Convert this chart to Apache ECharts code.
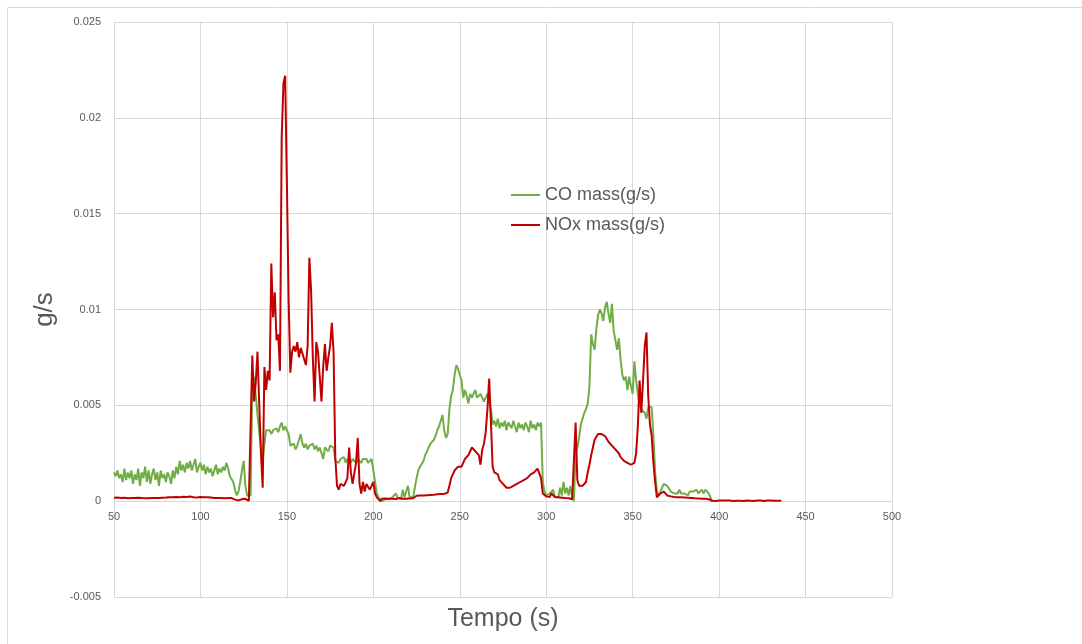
<!DOCTYPE html>
<html>
<head>
<meta charset="utf-8">
<script src="https://cdn.jsdelivr.net/npm/echarts@6/dist/echarts.min.js"></script>
<style>
  html, body { margin: 0; padding: 0; background: #ffffff; }
  #chart { width: 1082px; height: 644px; }
</style>
</head>
<body>
<div id="chart"></div>
<script>
// Sampling: one reading per second, starting at t = 50 s
const START_TIME = 50;
const STEP = 1;

const X_TICKS = [50, 100, 150, 200, 250, 300, 350, 400, 450, 500];
const Y_TICKS = [-0.005, 0, 0.005, 0.01, 0.015, 0.02, 0.025];

// CO mass flow (g/s), t = 50 .. 396 s
const coMass = [
  0.0015, 0.0013, 0.0016, 0.0012, 0.0014, 0.0010, 0.0017, 0.0011, 0.0015, 0.0012, // 50
  0.0016, 0.0009, 0.0014, 0.0011, 0.0017, 0.0008, 0.0015, 0.0012, 0.0018, 0.0010, // 60
  0.0016, 0.0009, 0.0014, 0.0017, 0.0011, 0.0015, 0.0008, 0.0016, 0.0012, 0.0014, // 70
  0.0010, 0.0015, 0.0013, 0.0009, 0.0016, 0.0012, 0.0018, 0.0014, 0.0021, 0.0016, // 80
  0.0019, 0.0015, 0.0020, 0.0017, 0.0021, 0.0016, 0.0019, 0.0022, 0.0015, 0.0018, // 90
  0.0020, 0.0016, 0.0019, 0.0014, 0.0018, 0.0015, 0.0017, 0.0013, 0.0016, 0.0019, // 100
  0.0014, 0.0017, 0.0015, 0.0018, 0.0016, 0.0020, 0.0017, 0.0013, 0.0012, 0.0010, // 110
  0.0006, 0.0003, 0.0005, 0.0010, 0.0016, 0.0021, 0.0008, 0.0003, 0.0002, 0.0003, // 120
  0.0060, 0.0065, 0.0055, 0.0045, 0.0036, 0.0028, 0.0021, 0.0030, 0.0037, 0.0036, // 130
  0.0037, 0.0035, 0.0037, 0.0036, 0.0038, 0.0036, 0.0039, 0.0041, 0.0037, 0.0039, // 140
  0.0038, 0.0035, 0.0029, 0.0028, 0.0030, 0.0027, 0.0029, 0.0028, 0.0035, 0.0030, // 150
  0.0028, 0.0030, 0.0027, 0.0029, 0.0028, 0.0030, 0.0027, 0.0029, 0.0026, 0.0028, // 160
  0.0025, 0.0022, 0.0028, 0.0029, 0.0026, 0.0029, 0.0030, 0.0028, 0.0021, 0.0022, // 170
  0.0020, 0.0022, 0.0021, 0.0023, 0.0020, 0.0022, 0.0021, 0.0020, 0.0022, 0.0021, // 180
  0.0020, 0.0022, 0.0021, 0.0020, 0.0022, 0.0021, 0.0022, 0.0020, 0.0021, 0.0022, // 190
  0.0021, 0.0010, 0.0004, 0.0002, 0.0001, 0.0000, 0.0000, 0.0001, 0.0000, 0.0001, // 200
  0.0001, 0.0002, 0.0001, 0.0004, 0.0002, 0.0003, 0.0001, 0.0006, 0.0002, 0.0003, // 210
  0.0008, 0.0002, 0.0001, 0.0002, 0.0003, 0.0012, 0.0016, 0.0018, 0.0019, 0.0021, // 220
  0.0024, 0.0026, 0.0028, 0.0030, 0.0031, 0.0032, 0.0034, 0.0037, 0.0039, 0.0042, // 230
  0.0045, 0.0037, 0.0033, 0.0035, 0.0048, 0.0055, 0.0058, 0.0066, 0.0071, 0.0069, // 240
  0.0068, 0.0063, 0.0054, 0.0058, 0.0055, 0.0051, 0.0056, 0.0054, 0.0053, 0.0058, // 250
  0.0054, 0.0053, 0.0056, 0.0055, 0.0052, 0.0054, 0.0056, 0.0052, 0.0048, 0.0040, // 260
  0.0042, 0.0039, 0.0043, 0.0038, 0.0041, 0.0039, 0.0042, 0.0037, 0.0041, 0.0040, // 270
  0.0038, 0.0042, 0.0039, 0.0036, 0.0041, 0.0038, 0.0040, 0.0037, 0.0041, 0.0039, // 280
  0.0036, 0.0042, 0.0038, 0.0040, 0.0037, 0.0041, 0.0039, 0.0041, 0.0010, 0.0005, // 290
  0.0003, 0.0002, 0.0004, 0.0003, 0.0006, 0.0002, 0.0003, 0.0002, 0.0007, 0.0003, // 300
  0.0010, 0.0004, 0.0007, 0.0003, 0.0008, 0.0002, 0.0000, 0.0025, 0.0028, 0.0033, // 310
  0.0040, 0.0043, 0.0046, 0.0048, 0.0051, 0.0060, 0.0087, 0.0082, 0.0079, 0.0090, // 320
  0.0097, 0.0100, 0.0098, 0.0094, 0.0101, 0.0104, 0.0098, 0.0093, 0.0103, 0.0089, // 330
  0.0084, 0.0079, 0.0085, 0.0074, 0.0066, 0.0063, 0.0065, 0.0058, 0.0065, 0.0060, // 340
  0.0056, 0.0073, 0.0063, 0.0056, 0.0050, 0.0048, 0.0047, 0.0046, 0.0043, 0.0049, // 350
  0.0048, 0.0049, 0.0034, 0.0015, 0.0005, 0.0003, 0.0005, 0.0007, 0.0009, 0.0010, // 360
  0.0008, 0.0007, 0.0005, 0.0006, 0.0004, 0.0005, 0.0004, 0.0006, 0.0004, 0.0005, // 370
  0.0004, 0.0005, 0.0003, 0.0005, 0.0004, 0.0005, 0.0004, 0.0006, 0.0004, 0.0005, // 380
  0.0006, 0.0004, 0.0006, 0.0005, 0.0004, 0.0002, 0.0000                          // 390
];

// NOx mass flow (g/s), t = 50 .. 436 s
const noxMass = [
  0.00018, 0.00016, 0.00019, 0.00015, 0.00017, 0.00014, 0.00018, 0.00016, 0.00015, 0.00019, // 50
  0.00016, 0.00013, 0.00017, 0.00015, 0.00018, 0.00014, 0.00016, 0.00019, 0.00015, 0.00017, // 60
  0.00015, 0.00018, 0.00016, 0.00014, 0.00017, 0.00020, 0.00016, 0.00015, 0.00018, 0.00017, // 70
  0.00019, 0.00016, 0.00021, 0.00018, 0.00020, 0.00017, 0.00022, 0.00019, 0.00021, 0.00018, // 80
  0.00023, 0.00020, 0.00022, 0.00019, 0.00024, 0.00021, 0.00020, 0.00023, 0.00019, 0.00021, // 90
  0.00022, 0.00019, 0.00021, 0.00018, 0.00020, 0.00017, 0.00019, 0.00018, 0.00016, 0.00019, // 100
  0.00017, 0.00018, 0.00016, 0.00017, 0.00015, 0.00017, 0.00016, 0.00015, 0.00016, 0.00014, // 110
  0.00008, 0.00005, 0.00004, 0.00006, 0.00010, 0.00018, 0.00012, 0.00004, 0.00002, 0.00003, // 120
  0.0076, 0.0052, 0.0062, 0.0078, 0.0051, 0.0025, 0.0007, 0.0070, 0.0058, 0.0068,           // 130
  0.0063, 0.0124, 0.0096, 0.0109, 0.0084, 0.0087, 0.0068, 0.0190, 0.0218, 0.0222,           // 140
  0.0166, 0.0105, 0.0067, 0.0078, 0.0081, 0.0078, 0.0083, 0.0075, 0.0080, 0.0077,           // 150
  0.0074, 0.0071, 0.0081, 0.0127, 0.0110, 0.0075, 0.0052, 0.0083, 0.0078, 0.0065,           // 160
  0.0052, 0.0070, 0.0082, 0.0068, 0.0075, 0.0081, 0.0093, 0.0078, 0.0023, 0.0008,           // 170
  0.0006, 0.0009, 0.0010, 0.0008, 0.0009, 0.0012, 0.0028, 0.0015, 0.0009, 0.0008,           // 180
  0.0020, 0.0033, 0.0009, 0.0004, 0.0010, 0.0005, 0.0009, 0.0010, 0.0006, 0.0008,           // 190
  0.0010, 0.0004, 0.0002, 0.0001, 0.0000, 0.00012, 0.00010, 0.00014, 0.00011, 0.00013,      // 200
  0.00015, 0.00012, 0.00014, 0.00011, 0.00013, 0.00016, 0.00014, 0.00012, 0.00015, 0.00013, // 210
  0.00016, 0.00014, 0.00017, 0.00015, 0.00018, 0.00028, 0.00030, 0.00029, 0.00031, 0.00030, // 220
  0.00032, 0.00031, 0.00033, 0.00032, 0.00034, 0.00033, 0.00035, 0.00036, 0.00034, 0.00037, // 230
  0.00036, 0.00038, 0.00040, 0.00045, 0.0008, 0.0012, 0.0014, 0.0016, 0.0017, 0.0018,       // 240
  0.0018, 0.0018, 0.0019, 0.0022, 0.0023, 0.0024, 0.0025, 0.0028, 0.0027, 0.0026,           // 250
  0.0027, 0.0024, 0.0019, 0.0027, 0.0030, 0.0036, 0.0048, 0.0064, 0.0042, 0.0018,           // 260
  0.0015, 0.0015, 0.0014, 0.0011, 0.0010, 0.0009, 0.0008, 0.0007, 0.0007, 0.0007,           // 270
  0.0007, 0.0008, 0.0008, 0.0009, 0.0009, 0.0010, 0.0010, 0.0011, 0.0012, 0.0012,           // 280
  0.0013, 0.0014, 0.0015, 0.0015, 0.0016, 0.0017, 0.0018, 0.0012, 0.0004, 0.0003,           // 290
  0.00025, 0.00018, 0.00022, 0.00040, 0.00030, 0.00022, 0.00018, 0.00020, 0.00015, 0.00018, // 300
  0.00014, 0.00016, 0.00013, 0.00015, 0.00012, 0.00010, 0.0000, 0.0041, 0.0011, 0.0008,     // 310
  0.0008, 0.0008, 0.0008, 0.0010, 0.0015, 0.0019, 0.0024, 0.0028, 0.0032, 0.0033,           // 320
  0.0035, 0.0035, 0.0035, 0.0035, 0.0034, 0.0033, 0.0031, 0.0030, 0.0029, 0.0028,           // 330
  0.0027, 0.0026, 0.0025, 0.0023, 0.0022, 0.0021, 0.0021, 0.0020, 0.0020, 0.0019,           // 340
  0.0019, 0.0020, 0.0025, 0.0039, 0.0063, 0.0046, 0.0063, 0.0081, 0.0088, 0.0055,           // 350
  0.0040, 0.0034, 0.0020, 0.0010, 0.0002, 0.0003, 0.0004, 0.0005, 0.0005, 0.0004,           // 360
  0.0003, 0.00028, 0.00025, 0.00023, 0.00022, 0.00020, 0.00021, 0.00019, 0.00020, 0.00018,  // 370
  0.00019, 0.00017, 0.00018, 0.00016, 0.00017, 0.00016, 0.00015, 0.00016, 0.00014, 0.00015, // 380
  0.00013, 0.00014, 0.00012, 0.00013, 0.00010, 0.00006, 0.00002, 0.00003, 0.00001, 0.00002, // 390
  0.00004, 0.00002, 0.00003, 0.00001, 0.00003, 0.00002, 0.00004, 0.00002, 0.00001, 0.00003, // 400
  0.00002, 0.00004, 0.00002, 0.00003, 0.00001, 0.00002, 0.00003, 0.00005, 0.00002, 0.00003, // 410
  0.00001, 0.00002, 0.00004, 0.00002, 0.00003, 0.00002, 0.00001, 0.00003, 0.00004, 0.00002, // 420
  0.00003, 0.00001, 0.00002, 0.00003, 0.00002, 0.00001, 0.00002                             // 430
];

const SERIES_NAMES = ['CO mass(g/s)', 'NOx mass(g/s)'];

function toPairs(values) {
  return values.map((v, i) => [START_TIME + i * STEP, v]);
}

const FONT = '"Liberation Sans", Arial, sans-serif';
const TEXT_COLOR = '#595959';
const GRID_COLOR = '#d9d9d9';

// Plot box in pixels
const PLOT = { left: 114, top: 22, right: 892, bottom: 597 };
// Horizontal axis sits on the zero line: shift it up from the bottom edge
const zeroFrac = (0 - Y_TICKS[0]) / (Y_TICKS[Y_TICKS.length - 1] - Y_TICKS[0]);
const X_AXIS_SHIFT = Math.round(zeroFrac * (PLOT.bottom - PLOT.top));

const chart = echarts.init(document.getElementById('chart'), null, { renderer: 'canvas' });

chart.setOption({
  animation: false,
  backgroundColor: '#ffffff',
  textStyle: { fontFamily: FONT },
  graphic: [
    { type: 'line', shape: { x1: 7.5, y1: 7.5, x2: 1082, y2: 7.5 }, style: { stroke: GRID_COLOR, lineWidth: 1 }, silent: true },
    { type: 'line', shape: { x1: 7.5, y1: 7.5, x2: 7.5, y2: 644 }, style: { stroke: GRID_COLOR, lineWidth: 1 }, silent: true }
  ],
  grid: {
    left: PLOT.left, right: 1082 - PLOT.right, top: PLOT.top, bottom: 644 - PLOT.bottom,
    containLabel: false, outerBoundsMode: 'none'
  },
  legend: {
    orient: 'vertical',
    left: 506,
    top: 181,
    itemGap: 12,
    itemWidth: 29,
    itemHeight: 2,
    icon: 'rect',
    data: SERIES_NAMES,
    textStyle: { fontFamily: FONT, fontSize: 18, color: TEXT_COLOR, lineHeight: 18 }
  },
  xAxis: {
    type: 'value',
    min: X_TICKS[0],
    max: X_TICKS[X_TICKS.length - 1],
    interval: 50,
    offset: -X_AXIS_SHIFT,
    name: 'Tempo (s)',
    nameLocation: 'middle',
    nameGap: 106,
    nameTextStyle: { fontFamily: FONT, fontSize: 25, color: TEXT_COLOR },
    axisLine: { onZero: false, lineStyle: { color: GRID_COLOR } },
    axisTick: { show: false },
    axisLabel: { fontFamily: FONT, fontSize: 11, color: TEXT_COLOR, margin: 10 },
    splitLine: { show: true, lineStyle: { color: GRID_COLOR, width: 1 } }
  },
  yAxis: {
    type: 'value',
    min: Y_TICKS[0],
    max: Y_TICKS[Y_TICKS.length - 1],
    interval: 0.005,
    name: 'g/s',
    nameLocation: 'middle',
    nameGap: 56,
    nameRotate: 90,
    nameTextStyle: { fontFamily: FONT, fontSize: 26, color: TEXT_COLOR },
    axisLine: { show: true, lineStyle: { color: GRID_COLOR } },
    axisTick: { show: false },
    axisLabel: {
      fontFamily: FONT, fontSize: 11, color: TEXT_COLOR, margin: 13,
      formatter: v => String(parseFloat(v.toFixed(3)))
    },
    splitLine: { show: true, lineStyle: { color: GRID_COLOR, width: 1 } }
  },
  series: [
    {
      name: SERIES_NAMES[0],
      type: 'line',
      data: toPairs(coMass),
      showSymbol: false,
      symbol: 'none',
      lineStyle: { color: '#70ad47', width: 2 },
      itemStyle: { color: '#70ad47' },
      z: 2
    },
    {
      name: SERIES_NAMES[1],
      type: 'line',
      data: toPairs(noxMass),
      showSymbol: false,
      symbol: 'none',
      lineStyle: { color: '#c00000', width: 2 },
      itemStyle: { color: '#c00000' },
      z: 3
    }
  ]
});
</script>
</body>
</html>
